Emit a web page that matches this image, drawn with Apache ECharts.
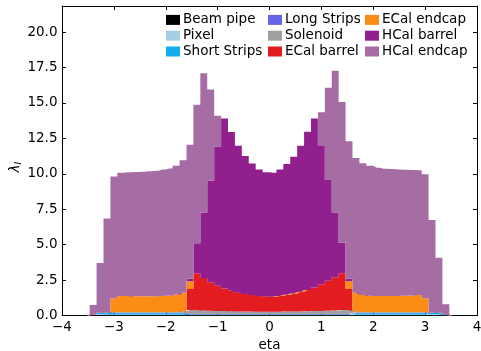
<!DOCTYPE html>
<html>
<head>
<meta charset="utf-8">
<script src="https://cdn.jsdelivr.net/npm/echarts@6/dist/echarts.min.js"></script>
<style>
  html, body { margin: 0; padding: 0; background: #fff; }
  #chart { width: 481px; height: 351px; }
</style>
</head>
<body>
<div id="chart"></div>
<script>
// histogram bins: width 2/15 in eta, filled bins run from -3.467 to 3.467 (52 bins)
var binWidth = 2 / 15;
var firstEdge = -26 * binWidth;

// interaction lengths per bin, from eta -3.467 upwards
var beamPipe = [0.02, 0.03, 0.03,
  0.02, 0.02, 0.02, 0.02, 0.02, 0.02, 0.02, 0.02, 0.02, 0.02, 0.02,
  0.01, 0.01, 0.01, 0.01, 0.01, 0.01, 0.01, 0.01, 0.01, 0.01, 0.01, 0.01,
  0.01, 0.01, 0.01, 0.01, 0.01, 0.01, 0.01, 0.01, 0.01, 0.01, 0.01, 0.01,
  0.02, 0.02, 0.02, 0.02, 0.02, 0.02, 0.02, 0.02, 0.02, 0.02, 0.02,
  0.03, 0.03, 0.02];
var pixel = [0.02, 0.05, 0.05,
  0.04, 0.04, 0.04, 0.04, 0.04, 0.04, 0.04, 0.04, 0.04, 0.04, 0.04,
  0.03, 0.03, 0.03, 0.03, 0.03, 0.03, 0.03, 0.03, 0.03, 0.03, 0.03, 0.03,
  0.03, 0.03, 0.03, 0.03, 0.03, 0.03, 0.03, 0.03, 0.03, 0.03, 0.03, 0.03,
  0.04, 0.04, 0.04, 0.04, 0.04, 0.04, 0.04, 0.04, 0.04, 0.04, 0.04,
  0.05, 0.05, 0.02];
var shortStrips = [0.01, 0.12, 0.14,
  0.10, 0.10, 0.10, 0.10, 0.10, 0.10, 0.10, 0.10, 0.10, 0.10, 0.10,
  0.03, 0.03, 0.03, 0.03, 0.03, 0.03, 0.03, 0.03, 0.03, 0.03, 0.03, 0.03,
  0.03, 0.03, 0.03, 0.03, 0.03, 0.03, 0.03, 0.03, 0.03, 0.03, 0.03, 0.03,
  0.10, 0.10, 0.10, 0.10, 0.10, 0.10, 0.10, 0.10, 0.10, 0.10, 0.10,
  0.14, 0.12, 0.01];
var longStrips = [0, 0, 0,
  0.04, 0.04, 0.04, 0.04, 0.04, 0.04, 0.04, 0.04, 0.04, 0.04, 0.04,
  0.04, 0.04, 0.04, 0.04, 0.04, 0.04, 0.04, 0.04, 0.04, 0.04, 0.04, 0.04,
  0.04, 0.04, 0.04, 0.04, 0.04, 0.04, 0.04, 0.04, 0.04, 0.04, 0.04, 0.04,
  0.04, 0.04, 0.04, 0.04, 0.04, 0.04, 0.04, 0.04, 0.04, 0.04, 0.04,
  0, 0, 0];
var solenoid = [0, 0, 0,
  0.05, 0.05, 0.05, 0.05, 0.05, 0.05, 0.05, 0.05, 0.05, 0.05, 0.10,
  0.27, 0.27, 0.25, 0.23, 0.21, 0.20, 0.19, 0.18, 0.17, 0.17, 0.16, 0.16,
  0.16, 0.16, 0.17, 0.17, 0.18, 0.19, 0.20, 0.21, 0.23, 0.25, 0.27, 0.27,
  0.10, 0.05, 0.05, 0.05, 0.05, 0.05, 0.05, 0.05, 0.05, 0.05, 0.05,
  0, 0, 0];
var ecalBarrel = [0, 0, 0, 0, 0, 0, 0, 0, 0, 0, 0, 0, 0, 0,
  1.49, 2.60, 2.29, 2.01, 1.78, 1.59, 1.45, 1.33, 1.24, 1.16, 1.11, 1.07,
  1.06, 1.11, 1.18, 1.27, 1.37, 1.50, 1.67, 1.88, 2.11, 2.34, 2.60, 1.49,
  0, 0, 0, 0, 0, 0, 0, 0, 0, 0, 0, 0, 0, 0];
var ecalEndcap = [0, 0, 0,
  0.96, 1.13, 1.13, 1.11, 1.10, 1.10, 1.11, 1.13, 1.17, 1.23, 1.30,
  0.55, 0, 0, 0, 0, 0, 0, 0, 0, 0, 0, 0,
  0, 0, 0, 0, 0, 0, 0, 0, 0, 0, 0, 0.55,
  1.30, 1.22, 1.17, 1.13, 1.12, 1.12, 1.13, 1.15, 1.17, 1.19, 0.96,
  0, 0, 0];
var hcalBarrel = [0, 0, 0, 0, 0, 0, 0, 0, 0, 0, 0, 0, 0, 0,
  0.18, 2.12, 4.61, 7.17, 9.82, 12.01, 11.20, 10.36, 9.73, 9.28, 8.92, 8.76,
  8.75, 8.92, 9.23, 9.65, 10.32, 11.17, 11.93, 9.76, 7.11, 4.56, 2.16, 0.18,
  0, 0, 0, 0, 0, 0, 0, 0, 0, 0, 0, 0, 0, 0];
var hcalEndcap = [0.69, 3.50, 6.62, 8.59, 8.70, 8.72, 8.76, 8.80, 8.83, 8.86, 8.92, 8.95, 9.09, 9.35,
  9.45, 9.78, 9.84, 6.43, 2.18, 0, 0, 0, 0, 0, 0, 0,
  0, 0, 0, 0, 0, 0, 0, 2.38, 6.52, 10.01, 9.93, 9.69,
  9.52, 9.27, 9.15, 9.05, 8.99, 8.96, 8.92, 8.88, 8.85, 8.81, 8.75, 6.52, 3.88, 0.74];

var layerNames = ['Beam pipe', 'Pixel', 'Short Strips', 'Long Strips', 'Solenoid',
  'ECal barrel', 'ECal endcap', 'HCal barrel', 'HCal endcap'];
var layerData = [beamPipe, pixel, shortStrips, longStrips, solenoid,
  ecalBarrel, ecalEndcap, hcalBarrel, hcalEndcap];
var layerColors = ['#000000', '#a6cee3', '#14aef0', '#6464e8', '#a0a0a0',
  '#e31c20', '#fd8c17', '#921f8e', '#a56da4'];

var xTicks = [-4, 4, 1];
var yTicks = [0, 21.84, 2.5];

var FONT = 'DejaVu Sans';

// the category axis covers -4..4 so 4 empty bins sit at each end
var padBins = 4;
var categories = [];
for (var i = 0; i < 52 + 2 * padBins; i++) {
  categories.push((firstEdge + (i - padBins + 0.5) * binWidth).toFixed(3));
}

function padded(arr) {
  var out = [];
  for (var i = 0; i < padBins; i++) out.push(0);
  for (var k = 0; k < arr.length; k++) out.push(arr[k]);
  for (var j = 0; j < padBins; j++) out.push(0);
  return out;
}

function minusFmt(v) {
  return v < 0 ? '\u2212' + Math.abs(v) : String(v);
}

var chart = echarts.init(document.getElementById('chart'), null, { renderer: 'canvas' });

var series = [];
for (var s = 0; s < layerNames.length; s++) {
  series.push({
    name: layerNames[s],
    type: 'line',
    stack: 'total',
    step: 'middle',
    xAxisIndex: 0,
    yAxisIndex: 0,
    symbol: 'none',
    showSymbol: false,
    color: layerColors[s],
    lineStyle: { width: 0 },
    areaStyle: { color: layerColors[s], opacity: 1 },
    emphasis: { disabled: true },
    data: padded(layerData[s])
  });
}

function legendCol(left, names) {
  return {
    orient: 'vertical',
    left: left,
    top: 12,
    itemWidth: 14,
    itemHeight: 10,
    itemGap: 0,
    icon: 'rect',
    padding: 0,
    selectedMode: false,
    textStyle: { fontFamily: FONT, fontSize: 13.5, color: '#000', lineHeight: 15.8, padding: [0, 0, 0, -2] },
    data: names
  };
}

var tickStyle = { show: true, inside: true, length: 4, lineStyle: { color: '#000', width: 1 } };
var lineStyle = { show: true, onZero: false, lineStyle: { color: '#000', width: 1 } };

var option = {
  animation: false,
  backgroundColor: '#fff',
  grid: { left: 62, right: 4, top: 6, bottom: 35.5, containLabel: false, outerBoundsMode: 'none' },
  legend: [
    legendCol(166, layerNames.slice(0, 3)),
    legendCol(268, layerNames.slice(3, 6)),
    legendCol(365, layerNames.slice(6, 9))
  ],
  xAxis: [{
    type: 'category',
    data: categories,
    boundaryGap: true,
    show: false
  }, {
    type: 'value',
    position: 'bottom',
    min: xTicks[0], max: xTicks[1], interval: xTicks[2],
    axisLine: lineStyle,
    axisTick: tickStyle,
    splitLine: { show: false },
    axisLabel: { margin: 4.5, fontFamily: FONT, fontSize: 13.5, color: '#000', formatter: minusFmt },
    name: 'eta',
    nameLocation: 'middle',
    nameGap: 20,
    nameTextStyle: { fontFamily: FONT, fontSize: 13.5, color: '#000' }
  }, {
    type: 'value',
    position: 'top',
    min: xTicks[0], max: xTicks[1], interval: xTicks[2],
    axisLine: lineStyle,
    axisTick: tickStyle,
    splitLine: { show: false },
    axisLabel: { show: false }
  }],
  yAxis: [{
    type: 'value',
    position: 'left',
    min: yTicks[0], max: yTicks[1], interval: yTicks[2],
    axisLine: lineStyle,
    axisTick: tickStyle,
    splitLine: { show: false },
    axisLabel: {
      margin: 4.5, fontFamily: FONT, fontSize: 13.5, color: '#000', showMaxLabel: false,
      formatter: function (v) { return v.toFixed(1); }
    }
  }, {
    type: 'value',
    position: 'right',
    min: yTicks[0], max: yTicks[1], interval: yTicks[2],
    axisLine: lineStyle,
    axisTick: tickStyle,
    splitLine: { show: false },
    axisLabel: { show: false }
  }],
  graphic: [{
    type: 'text',
    x: 15,
    y: 167,
    rotation: Math.PI / 2,
    style: {
      text: '{a|\u03bb}{b|I}',
      align: 'center',
      verticalAlign: 'middle',
      rich: {
        a: { fontFamily: FONT, fontSize: 13.5, fontStyle: 'italic', fill: '#000' },
        b: { fontFamily: FONT, fontSize: 9.5, fontStyle: 'italic', fill: '#000', padding: [7, 0, 0, 0] }
      }
    }
  }],
  series: series
};

chart.setOption(option);
</script>
</body>
</html>
